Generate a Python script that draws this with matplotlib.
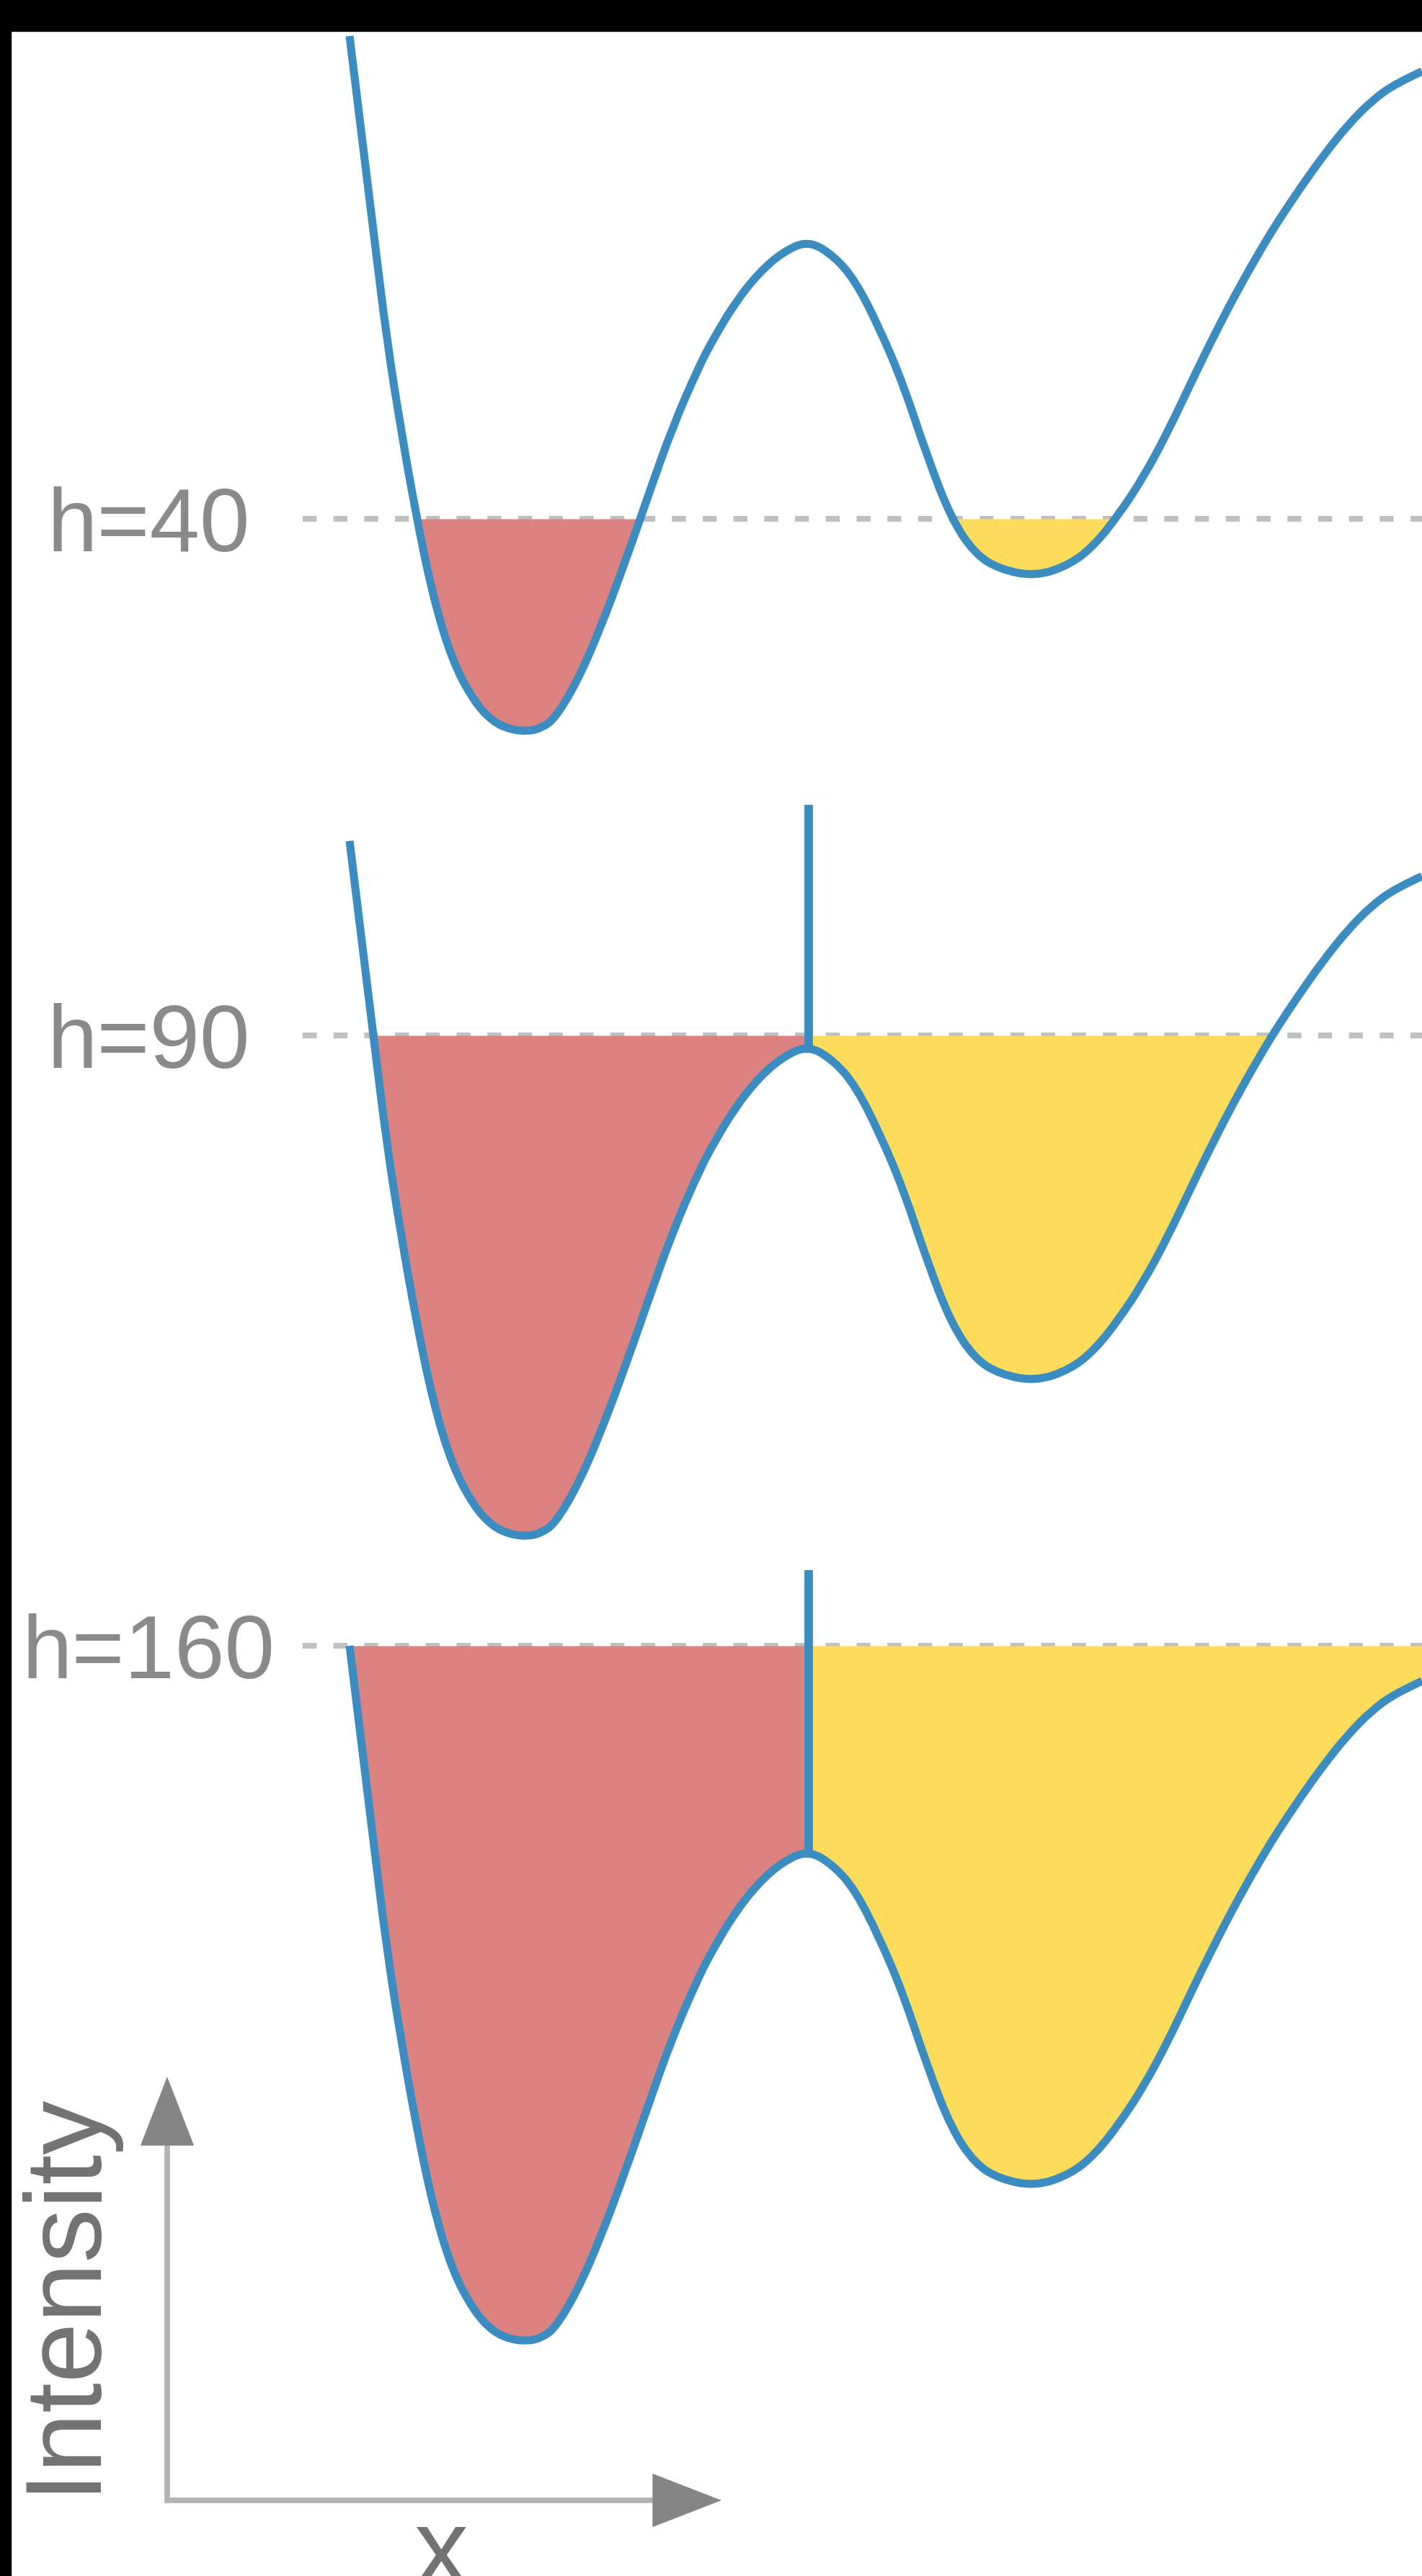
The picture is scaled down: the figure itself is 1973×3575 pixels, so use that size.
import numpy as np
import matplotlib.pyplot as plt
from matplotlib.patches import Rectangle, PathPatch
from matplotlib.path import Path

# intensity profile along x (same profile in every panel)
pos = [0, 6.6, 10.4, 14.4, 18.4, 23, 28.4, 34.4, 39.6, 44.6,
       49.6, 53.4, 57, 63, 69.6, 77, 83, 89.6, 97, 101,
       107, 113.6, 120.4, 127.4, 134.4, 140.4, 147, 153.6, 160.4, 167,
       173.6, 180.4, 190.4, 200.2, 207, 213.6, 220.2, 227, 233.6, 240.2,
       247, 253.6, 257.6, 263.6, 270.2, 277, 283.6, 290.2, 297.6]
intensity = [193, 139, 108.2, 83, 60.4, 38, 19.8, 8.5, 2.8, 0.5,
             0, 1.0, 3.6, 13.5, 28.5, 48.5, 65.8, 84.4, 101.4, 109,
             119, 127.3, 133.2, 136.2, 132, 125, 112, 96.5, 76, 59,
             49.2, 45, 43, 46.4, 52, 60.4, 70.4, 83, 97, 110.5,
             123.5, 135, 141.5, 150.5, 159.8, 168.3, 175, 179.8, 183.2]

# flooding levels (same units as intensity), labels and dam tops
levels = [59, 139, 193]
level_labels = ['h=40', 'h=90', 'h=160']
dam_tops = [None, 203, 214]

x = np.array(pos)
y = np.array(intensity)
peak = np.argmax(np.where((x > 60) & (x < 180), y, -1))

# smooth outline: quadratic bezier through the read points
verts = [(x[0], y[0])]
codes = [Path.MOVETO]
for i in range(1, len(x) - 1):
    verts += [(x[i], y[i]), ((x[i] + x[i + 1]) / 2, (y[i] + y[i + 1]) / 2)]
    codes += [Path.CURVE3, Path.CURVE3]
verts[-1] = (x[-1], y[-1])
outline = Path(verts, codes)

W, H = 1973, 3575
fig = plt.figure(figsize=(W / 100, H / 100), dpi=100)
fig.patch.set_facecolor('white')

line_col = '#3a8cc1'
red = '#dc8381'
yellow = '#fddc5c'
grey_txt = '#8a8a8a'

# panel layout: pixel row of intensity 0 in each panel
bases = [1015, 2132, 3249]
for base, lev, lab, dam in zip(bases, levels, level_labels, dam_tops):
    ax = fig.add_axes([0, 1 - (base + 100) / H, 1, 1250 / H])
    ax.set_xlim(-97, 297.6)
    ax.set_ylim(-20, 230)
    ax.axis('off')

    ax.plot([-13, 300], [lev, lev], color='#c0c0c0', lw=5.8,
            linestyle=(0, (2.4, 2.9)), zorder=1, clip_on=False)
    ax.fill_between(x, y, lev, where=(y <= lev) & (x <= x[peak]),
                    interpolate=True, color=red, lw=0, zorder=2)
    ax.fill_between(x, y, lev, where=(y <= lev) & (x >= x[peak]),
                    interpolate=True, color=yellow, lw=0, zorder=2)
    ax.add_patch(PathPatch(outline, fill=False, edgecolor=line_col, lw=8,
                           joinstyle='round', capstyle='butt', zorder=3,
                           clip_on=False))
    if dam is not None:
        ax.plot([x[peak], x[peak]], [y[peak], dam], color=line_col, lw=8.5,
                solid_capstyle='butt', zorder=4, clip_on=False)
    ax.text(-55.8, lev - 9, lab, ha='center', va='baseline', fontsize=90,
            color=grey_txt, family='Liberation Sans', clip_on=False)

# axis sketch in the lower left corner
ov = fig.add_axes([0, 0, 1, 1])
ov.set_xlim(0, W)
ov.set_ylim(H, 0)
ov.axis('off')
ov.plot([232, 232, 909], [2976, 3470, 3470], color='#b2b2b2', lw=5.5,
        solid_joinstyle='miter', solid_capstyle='butt')
head = dict(arrowstyle='-|>,head_length=67,head_width=26', color='#858585',
            lw=1, shrinkA=0, shrinkB=0, mutation_scale=1)
ov.annotate('', xy=(232, 2882), xytext=(232, 2976), arrowprops=head)
ov.annotate('', xy=(1001, 3470), xytext=(909, 3470), arrowprops=head)
ov.text(88, 3180, 'Intensity', rotation=90, ha='center', va='center',
        fontsize=108, color='#727272', family='Liberation Sans')
ov.text(612, 3587, 'x', ha='center', va='baseline', fontsize=108,
        color='#727272', family='Liberation Sans')

# black frame strips at top and left edge of the original picture
fig.patches.append(Rectangle((0, 1 - 43 / H), 1, 43 / H, transform=fig.transFigure,
                             color='black', zorder=10))
fig.patches.append(Rectangle((0, 0), 15 / W, 1, transform=fig.transFigure,
                             color='black', zorder=10))

fig.savefig('out.png', dpi=100, facecolor='white')
